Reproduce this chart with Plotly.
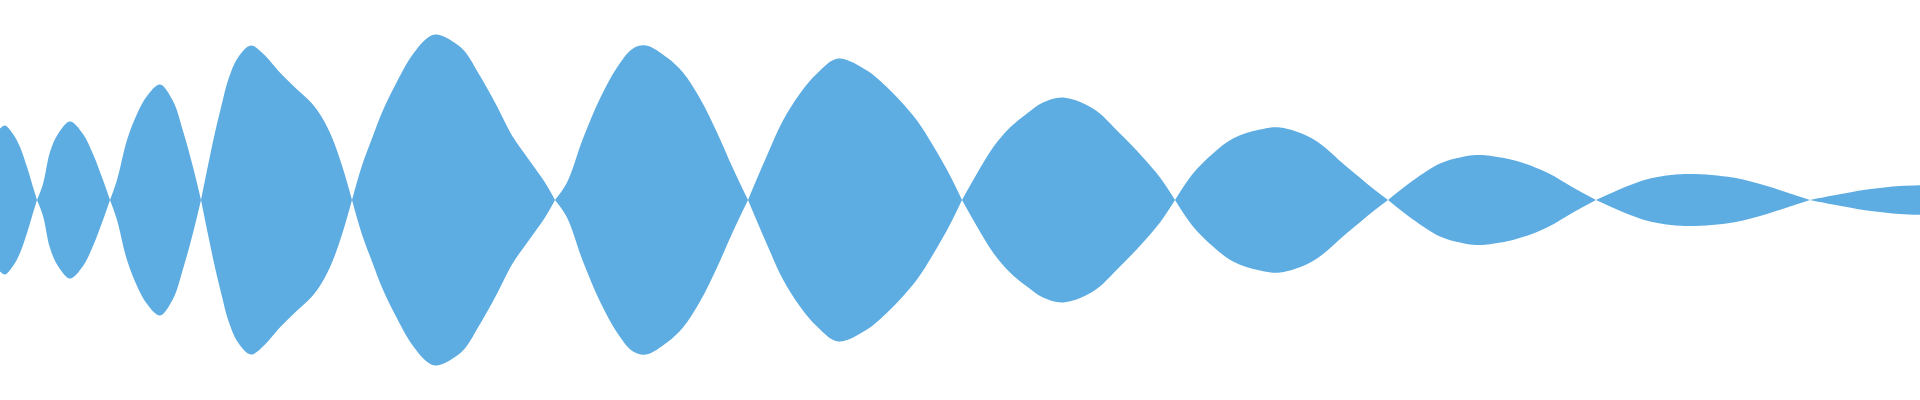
import plotly.graph_objects as go

# Sample positions (x) and envelope amplitude (half-height)
x_pos = [0, 5, 13, 20, 27, 33, 37,
         43, 50, 58, 70, 83, 93, 103, 110,
         117, 127, 137, 147, 160, 173, 183, 193, 201,
         208, 215, 222, 228, 238, 251, 265, 278, 295, 312, 322, 332, 342, 352,
         362, 372, 382, 395, 412, 428, 437, 462, 478, 495, 512, 528, 545, 555,
         567, 583, 600, 617, 633, 646, 667, 683, 700, 717, 733, 748,
         767, 783, 800, 817, 838, 867, 883, 900, 917, 933, 950, 962,
         977, 993, 1010, 1027, 1043, 1063, 1093, 1120, 1143, 1160, 1175,
         1193, 1213, 1233, 1260, 1280, 1313, 1347, 1373, 1388,
         1413, 1440, 1460, 1477, 1513, 1547, 1573, 1596,
         1617, 1633, 1650, 1685, 1733, 1767, 1790, 1810,
         1833, 1867, 1900, 1920]
amplitude = [71.5, 74.5, 66, 53, 33, 13, 0,
             16, 48, 66, 78.5, 66, 46, 20, 0,
             20, 60, 86, 104, 115.5, 99, 69, 33, 0,
             34.5, 67.5, 96.5, 119.5, 142.5, 154.5, 144.5, 129.5, 112.5, 96.5, 82.5, 62.5, 34.5, 0,
             34.5, 61.5, 87.5, 114.5, 144.5, 162.5, 165.5, 151.5, 127.5, 97.5, 64.5, 41.5, 17.5, 0,
             17.5, 61.5, 101.5, 132.5, 151.5, 154.5, 142.5, 127.5, 101.5, 67.5, 31.5, 0,
             44.5, 79.5, 106.5, 126.5, 141.5, 129.5, 116.5, 99.5, 79.5, 54.5, 24.5, 0,
             26.5, 52.5, 72.5, 86.5, 97.5, 102.5, 91.5, 66.5, 42.5, 22.5, 0,
             26.5, 46.5, 61.5, 70.5, 72.5, 61, 33, 11.5, 0,
             19.5, 36.5, 42.5, 45, 40, 27.5, 12.5, 0,
             9.5, 16, 21.5, 26, 22.5, 14, 6.5, 0,
             4.5, 10.5, 14, 14.8]

FILL = "#5DADE2"
NOLINE = "rgba(0,0,0,0)"

# split the series into lobes at the zero crossings
lobes = []
cur = []
for xi, ai in zip(x_pos, amplitude):
    cur.append((xi, ai))
    if ai == 0 and len(cur) > 1:
        lobes.append(cur)
        cur = [(xi, ai)]
if len(cur) > 1:
    lobes.append(cur)

fig = go.Figure()
for lobe in lobes:
    xs = [p[0] for p in lobe]
    up = [p[1] for p in lobe]
    lo = [-p[1] for p in lobe]
    fig.add_trace(go.Scatter(x=xs, y=up, mode="lines",
                             line=dict(color=NOLINE, width=0, shape="spline", smoothing=1),
                             hoverinfo="skip", showlegend=False))
    fig.add_trace(go.Scatter(x=xs, y=lo, mode="lines", fill="tonexty", fillcolor=FILL,
                             line=dict(color=NOLINE, width=0, shape="spline", smoothing=1),
                             hoverinfo="skip", showlegend=False))

fig.update_layout(
    width=1920, height=400,
    margin=dict(l=0, r=0, t=0, b=0),
    paper_bgcolor="white", plot_bgcolor="white",
    xaxis=dict(range=[0, 1920], visible=False, fixedrange=True),
    yaxis=dict(range=[-200, 200], visible=False, fixedrange=True),
)

fig.write_html("out.html", config={"displayModeBar": False},
               post_script="document.body.style.margin='0';")
